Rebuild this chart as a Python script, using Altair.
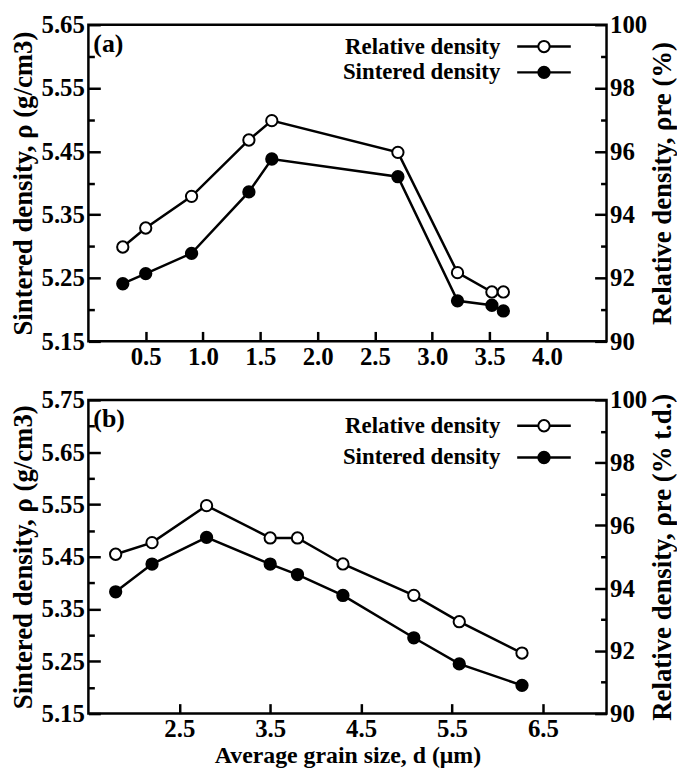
import altair as alt
import pandas as pd

# ---------------- data ----------------
d_a = [0.3, 0.5, 0.9, 1.4, 1.6, 2.7, 3.22, 3.52, 3.62]
sint_a = [5.241, 5.257, 5.289, 5.386, 5.438, 5.410, 5.214, 5.207, 5.198]
rel_a = [92.98, 93.58, 94.58, 96.36, 96.97, 95.97, 92.17, 91.56, 91.56]

d_b = [1.8, 2.2, 2.8, 3.5, 3.8, 4.3, 5.08, 5.58, 6.27]
sint_b = [5.383, 5.436, 5.487, 5.436, 5.416, 5.376, 5.295, 5.245, 5.204]
rel_b = [95.08, 95.45, 96.63, 95.60, 95.60, 94.77, 93.77, 92.93, 91.93]

xticks_a = [0.5, 1.0, 1.5, 2.0, 2.5, 3.0, 3.5, 4.0]
xticks_b = [2.5, 3.5, 4.5, 5.5, 6.5]
ymaj_a = [5.15, 5.25, 5.35, 5.45, 5.55, 5.65]
yall_a = [5.15, 5.20, 5.25, 5.30, 5.35, 5.40, 5.45, 5.50, 5.55, 5.60, 5.65]
ymaj_b = [5.15, 5.25, 5.35, 5.45, 5.55, 5.65, 5.75]
yall_b = [5.15, 5.20, 5.25, 5.30, 5.35, 5.40, 5.45, 5.50, 5.55, 5.60, 5.65, 5.70, 5.75]
rmaj = [90, 92, 94, 96, 98, 100]
rall = [90, 91, 92, 93, 94, 95, 96, 97, 98, 99, 100]
series = ["Relative density", "Sintered density"]
series_fill = ["white", "black"]

FONT = "Liberation Serif"
W = 522
PT = 130


def legend_layers(rows_y):
    out = []
    for name, fill, yy in zip(series, series_fill, rows_y):
        df = pd.DataFrame({"label": [name]})
        out.append(alt.Chart(df).mark_text(
            font=FONT, fontSize=23, fontWeight="bold", align="right", baseline="middle",
            color="black").encode(text="label:N", x=alt.value(415), y=alt.value(yy)))
        out.append(alt.Chart(df).mark_rule(color="black", strokeWidth=2.5).encode(
            x=alt.value(432), x2=alt.value(486), y=alt.value(yy)))
        out.append(alt.Chart(df).mark_point(
            filled=True, fill=fill, stroke="black", strokeWidth=2, size=PT, opacity=1).encode(
            x=alt.value(459), y=alt.value(yy)))
    return out


def panel(d, sint, rel, xdom, xticks, ydom, ymaj, yall, rtitle, letter, H, xtitle, rows_y):
    df_s = pd.DataFrame({"d": d, "v": sint})
    df_r = pd.DataFrame({"d": d, "v": rel})
    xs = alt.Scale(domain=xdom, nice=False, zero=False)
    ysl = alt.Scale(domain=ydom, nice=False, zero=False)
    ysr = alt.Scale(domain=[90, 100], nice=False, zero=False)

    xlab_kw = dict(orient="bottom", values=xticks, format=".1f", ticks=False,
                   domain=False, grid=False, labelPadding=3)
    if xtitle:
        xlab_kw.update(title=xtitle, titlePadding=2, titleFontSize=24)
    else:
        xlab_kw.update(title=None)
    x_lab = alt.X("d:Q", scale=xs, axis=alt.Axis(**xlab_kw))
    x_tick = alt.X("d:Q", scale=xs, axis=alt.Axis(
        orient="top", offset=-H, values=xticks, labels=False, ticks=True,
        tickSize=10, tickWidth=2.5, tickColor="black", domain=False, grid=False, title=None))
    x_none = alt.X("d:Q", scale=xs, axis=None)

    left_lab = alt.Axis(orient="left", values=ymaj, format=".2f", ticks=False,
                        domain=False, grid=False, labelPadding=4,
                        title="Sintered density, ρ (g/cm3)", titlePadding=4)
    left_tick = alt.Axis(orient="right", offset=-W, values=yall, labels=False,
                         ticks=True, tickWidth=2.5, tickColor="black",
                         tickSize={"condition": {"test": "round(datum.value*100) % 10 == 5", "value": 12}, "value": 6},
                         domain=False, grid=False, title=None)
    right_lab = alt.Axis(orient="right", values=rmaj, format="d", ticks=False,
                         domain=False, grid=False, labelPadding=3,
                         title=rtitle, titlePadding=3, titleAngle=270, titleBaseline="top")
    right_tick = alt.Axis(orient="left", offset=-W, values=rall, labels=False,
                          ticks=True, tickWidth=2.5, tickColor="black",
                          tickSize={"condition": {"test": "datum.value % 2 == 0", "value": 12}, "value": 6},
                          domain=False, grid=False, title=None)

    L1 = alt.Chart(df_s).mark_line(color="black", strokeWidth=2.5).encode(
        x=x_lab, y=alt.Y("v:Q", scale=ysl, axis=left_lab))
    R1 = alt.Chart(df_r).mark_line(color="black", strokeWidth=2.5).encode(
        x=x_none, y=alt.Y("v:Q", scale=ysr, axis=right_lab))
    L2 = alt.Chart(df_s).mark_point(filled=True, fill="black", size=PT, stroke="black",
                                    strokeWidth=2, opacity=1).encode(
        x=x_tick, y=alt.Y("v:Q", scale=ysl, axis=left_tick))
    R2 = alt.Chart(df_r).mark_point(filled=True, fill="white", size=PT, stroke="black",
                                    strokeWidth=2, opacity=1).encode(
        x=x_none, y=alt.Y("v:Q", scale=ysr, axis=right_tick))
    T = alt.Chart(pd.DataFrame({"t": [letter]})).mark_text(
        font=FONT, fontSize=26, fontWeight="bold", align="left", baseline="middle",
        color="black").encode(text="t:N", x=alt.value(5), y=alt.value(19))

    return alt.layer(L1, R1, L2, R2, T, *legend_layers(rows_y)).resolve_scale(
        y="independent").resolve_axis(x="independent", y="independent").properties(
        width=W, height=H)


pa = panel(d_a, sint_a, rel_a, [0, 4.52], xticks_a, [5.15, 5.65], ymaj_a, yall_a,
           "Relative density, ρre (%)", "(a)", 319, None, [22, 48])
pb = panel(d_b, sint_b, rel_b, [1.5, 7.2], xticks_b, [5.15, 5.75], ymaj_b, yall_b,
           "Relative density, ρre (% t.d.)", "(b)", 316, "Average grain size, d (μm)", [26, 58])

chart = alt.vconcat(pa, pb, spacing=15).properties(
    padding={"left": 0, "top": 0, "right": 0, "bottom": 0}).configure_view(
    stroke="black", strokeWidth=2.5).configure_axis(
    labelFont=FONT, labelFontSize=25, labelFontWeight="bold", labelColor="black",
    titleFont=FONT, titleFontSize=27, titleFontWeight="bold", titleColor="black")

chart.save("out.html", embed_options={"renderer": "svg", "actions": False})
